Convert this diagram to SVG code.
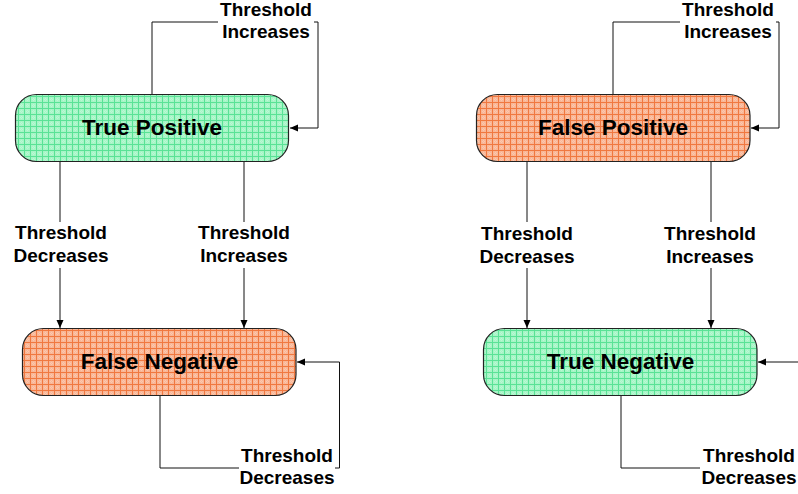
<svg xmlns="http://www.w3.org/2000/svg" width="798" height="494" viewBox="0 0 798 494">
<defs>
<pattern id="gridG" width="6" height="6" patternUnits="userSpaceOnUse">
<rect width="6" height="6" fill="#a6f5c6"/>
<path d="M0 3.5H6M3.5 0V6" stroke="#cafadd" stroke-width="0.6" stroke-dasharray="1 1"/>
<path d="M0 0.5H6M0.5 0V6" stroke="#5ae296" stroke-width="1"/>
</pattern>
<pattern id="gridO" width="6" height="6" patternUnits="userSpaceOnUse">
<rect width="6" height="6" fill="#f9b696"/>
<path d="M0 3.5H6M3.5 0V6" stroke="#fcd3bf" stroke-width="0.6" stroke-dasharray="1 1"/>
<path d="M0 0.5H6M0.5 0V6" stroke="#f07840" stroke-width="1"/>
</pattern>
<marker id="arr" markerUnits="userSpaceOnUse" markerWidth="9" markerHeight="8" refX="8" refY="3.5" orient="auto">
<path d="M0,0 L8,3.5 L0,7 z" fill="#000"/>
</marker>
</defs>
<style>
.node{stroke:#222;stroke-width:1.2}
.ntext{font-family:"Liberation Sans",Arial,sans-serif;font-weight:bold;font-size:22.5px;fill:#000;text-anchor:middle}
.lbl{font-family:"Liberation Sans",Arial,sans-serif;font-weight:bold;font-size:19px;fill:#000;text-anchor:middle}
.conn path{fill:none;stroke:#111;stroke-width:1}
</style>
<g id="connectors" class="conn">
<path d="M152,94 V22 H218"/>
<path d="M314,22 H318 V128 H290" marker-end="url(#arr)"/>
<path d="M60,162 V222"/>
<path d="M60,268 V328" marker-end="url(#arr)"/>
<path d="M244,162 V222"/>
<path d="M244,268 V328" marker-end="url(#arr)"/>
<path d="M160,396 V468 H239"/>
<path d="M335,468 H339.5 V362 H297" marker-end="url(#arr)"/>
<path d="M613,94 V22 H680"/>
<path d="M776,22 H779 V128 H751" marker-end="url(#arr)"/>
<path d="M527,162 V222"/>
<path d="M527,268 V328" marker-end="url(#arr)"/>
<path d="M711,162 V222"/>
<path d="M711,268 V328" marker-end="url(#arr)"/>
<path d="M621,396 V468 H700"/>
<path d="M805,468 V362 H758" marker-end="url(#arr)"/>
</g>
<g id="labels">
<text class="lbl" x="266" y="16">Threshold</text>
<text class="lbl" x="266" y="38">Increases</text>
<text class="lbl" x="61" y="239">Threshold</text>
<text class="lbl" x="61" y="262">Decreases</text>
<text class="lbl" x="244" y="239">Threshold</text>
<text class="lbl" x="244" y="262">Increases</text>
<text class="lbl" x="287" y="462">Threshold</text>
<text class="lbl" x="287" y="484">Decreases</text>
<text class="lbl" x="728" y="16">Threshold</text>
<text class="lbl" x="728" y="38">Increases</text>
<text class="lbl" x="527" y="240">Threshold</text>
<text class="lbl" x="527" y="263">Decreases</text>
<text class="lbl" x="710" y="240">Threshold</text>
<text class="lbl" x="710" y="263">Increases</text>
<text class="lbl" x="749" y="462">Threshold</text>
<text class="lbl" x="749" y="484">Decreases</text>
</g>
<g id="tp">
<rect class="node" x="15.5" y="94.5" width="273" height="67" rx="21" fill="url(#gridG)"/>
<text class="ntext" x="152" y="135">True Positive</text>
</g>
<g id="fp">
<rect class="node" x="476.5" y="94.5" width="273.5" height="67" rx="21" fill="url(#gridO)"/>
<text class="ntext" x="613" y="135">False Positive</text>
</g>
<g id="fn">
<rect class="node" x="22.5" y="328.5" width="273.5" height="67" rx="21" fill="url(#gridO)"/>
<text class="ntext" x="159.5" y="369">False Negative</text>
</g>
<g id="tn">
<rect class="node" x="483.5" y="328.5" width="273.5" height="67" rx="21" fill="url(#gridG)"/>
<text class="ntext" x="620.5" y="369">True Negative</text>
</g>
</svg>
